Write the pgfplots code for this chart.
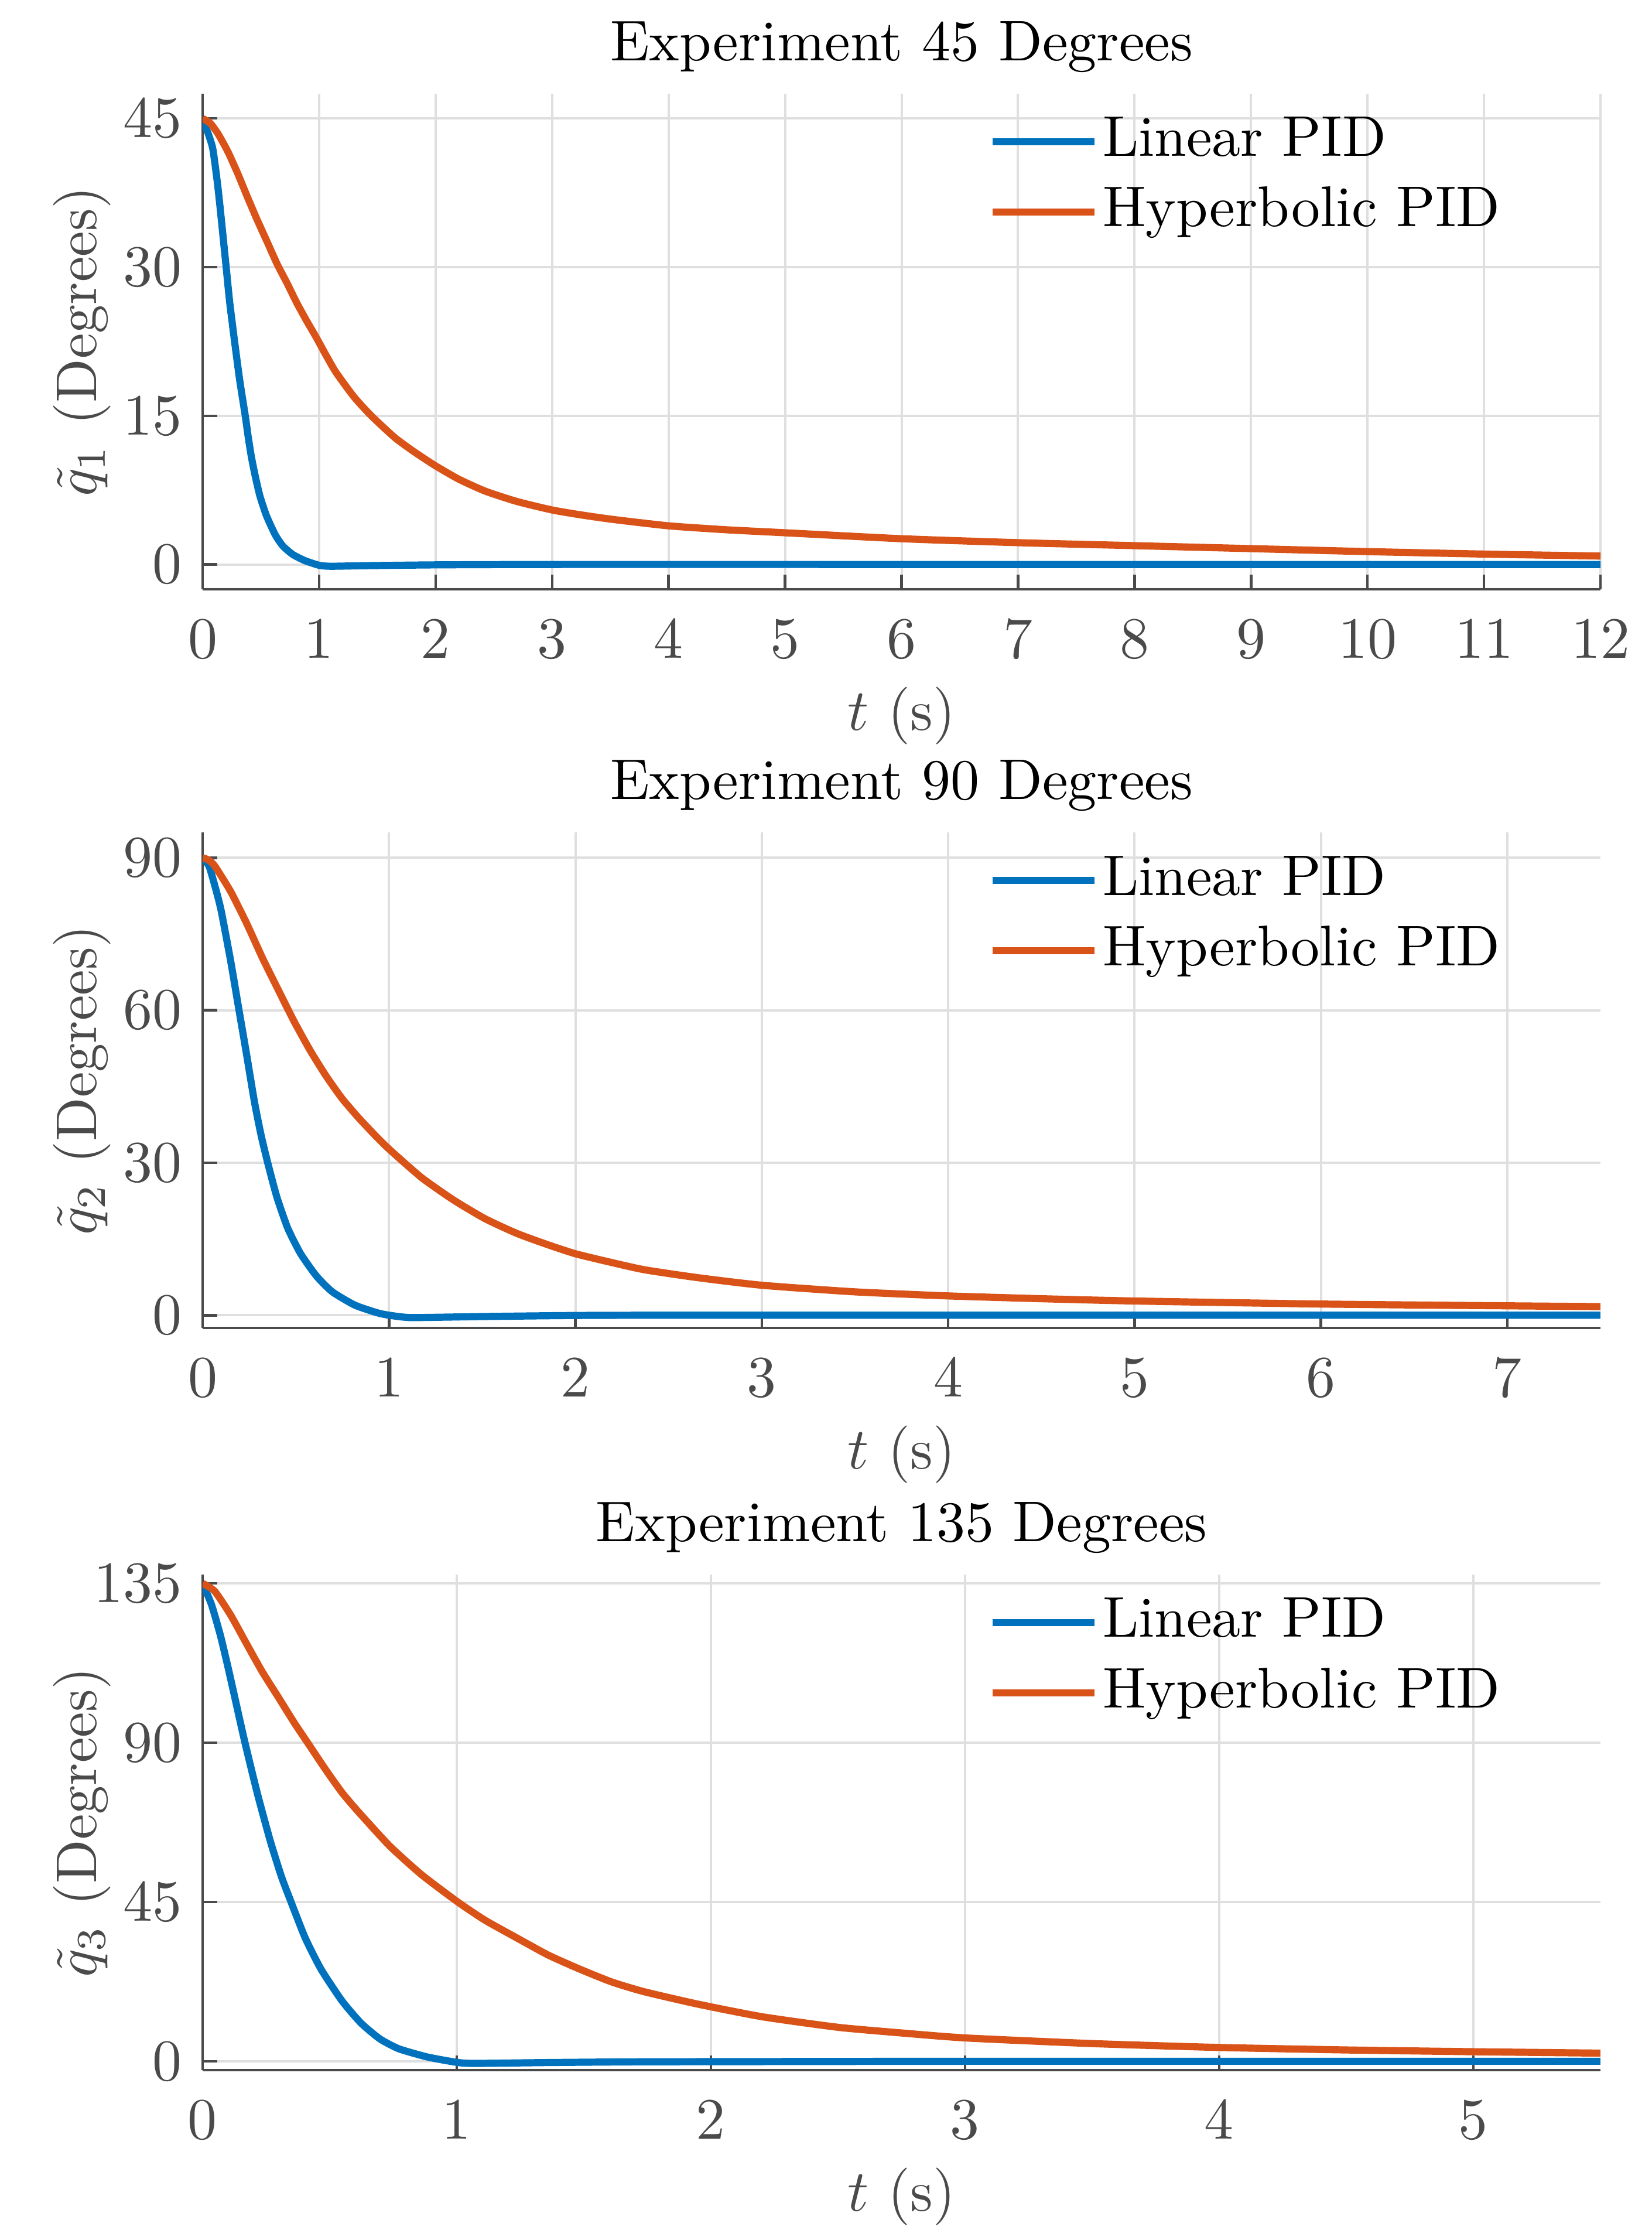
\documentclass[border=0pt]{standalone}
\usepackage{pgfplots}
\pgfplotsset{compat=1.18}
\definecolor{mblue}{rgb}{0,0.447,0.741}
\definecolor{morange}{rgb}{0.85,0.325,0.098}
\definecolor{axgray}{gray}{0.29}
\definecolor{gridgray}{gray}{0.875}
\newcommand{\fs}{\fontsize{10.3}{12}\selectfont}
\newcommand{\ft}{\fontsize{9.8}{12}\selectfont}
\pgfplotsset{
  myax/.style={
    scale only axis, width=238.7pt, height=84.6pt,
    axis x line*=bottom, axis y line*=left,
    axis line style={axgray, line width=0.45pt, -},
    every tick/.style={axgray, line width=0.45pt},
    tick align=inside, major tick length=2.5pt,
    grid=major, major grid style={gridgray, line width=0.4pt},
    tick label style={font=\fs, text=axgray},
    xticklabel style={yshift=-1.8pt},
    xlabel={$t$ (s)},
    every axis title shift=0pt,
    xlabel style={font=\ft, text=axgray, at={(axis description cs:0.5,-0.255)}, anchor=center},
    ylabel style={font=\ft, text=axgray, at={(axis description cs:-0.0863,0.5)}, anchor=center},
    title style={font=\ft, text=black, at={(axis description cs:0.5,1.094)}, anchor=center},
    legend style={draw=none, fill=none, at={(axis description cs:0.5627,0.974)}, anchor=north west,
      inner sep=0pt, outer sep=0pt, row sep=0pt,
      nodes={font=\ft, text=black, inner xsep=0.8pt, inner ysep=1.5pt, text height=7pt, text depth=2pt}},
    legend cell align=left,
    legend image code/.code={\draw[#1] (0pt,0pt) -- (17.4pt,0pt);},
    every axis plot/.append style={line width=1.22pt, smooth, tension=0.35},
  }
}
\begin{document}
\begin{tikzpicture}
\useasboundingbox (0,0) rectangle (282pt,382.4pt);
% ---------- 45 degrees ----------
\begin{axis}[myax, at={(34.6pt,281.8pt)}, anchor=south west,
  xmin=0, xmax=12, ymin=-2.5, ymax=47.5,
  xtick={0,1,...,12}, ytick={0,15,30,45},
  title={Experiment 45 Degrees}, ylabel={$\tilde{q}_1$ (Degrees)}]
\addplot[mblue] coordinates {
(0,45)(0.017,44.4)(0.05,43.4)(0.088,41.9)(0.13,38.2)(0.165,34.3)(0.202,30)(0.232,26.5)
(0.27,22.9)(0.317,18.7)(0.366,15)(0.391,12.9)(0.418,10.9)(0.452,8.9)(0.492,6.9)(0.547,4.95)
(0.623,3.0)(0.69,1.85)(0.775,1.0)(0.876,0.4)(1.0,-0.08)(1.1,-0.18)(1.4,-0.12)(2,-0.04)(3,0)(6,0)(9,0)(12,0)};
\addlegendentry{Linear PID}
\addplot[morange] coordinates {
(0,45)(0.067,44.5)(0.135,43.4)(0.219,41.6)(0.303,39.4)(0.387,37.0)(0.471,34.7)(0.556,32.5)
(0.64,30.3)(0.724,28.4)(0.808,26.4)(0.892,24.6)(0.976,22.9)(1.06,21.1)(1.144,19.4)(1.3,16.9)
(1.448,15)(1.65,12.8)(1.818,11.35)(2.0,9.95)(2.2,8.6)(2.426,7.4)(2.7,6.35)(3.0,5.5)(3.25,5.0)
(3.52,4.55)(4.0,3.9)(4.5,3.5)(5,3.2)(6,2.6)(7,2.2)(8,1.9)(9,1.6)(10,1.3)(11,1.05)(12,0.85)};
\addlegendentry{Hyperbolic PID}
\end{axis}
% ---------- 90 degrees ----------
\begin{axis}[myax, at={(34.6pt,155.7pt)}, anchor=south west,
  xmin=0, xmax=7.5, ymin=-2.5, ymax=95,
  xtick={0,1,...,7}, ytick={0,30,60,90},
  title={Experiment 90 Degrees}, ylabel={$\tilde{q}_2$ (Degrees)}]
\addplot[mblue] coordinates {
(0,90)(0.035,88.3)(0.073,83.5)(0.1,79.5)(0.15,69.8)(0.193,60.5)(0.235,51.5)(0.278,42)
(0.315,35.2)(0.352,29.6)(0.398,23.3)(0.457,17.1)(0.526,12.1)(0.611,7.7)(0.696,4.6)(0.816,2.0)
(0.935,0.5)(1.0,0)(1.106,-0.45)(1.3,-0.38)(1.515,-0.25)(2.0,-0.05)(2.5,0)(5,0)(7.5,0)};
\addlegendentry{Linear PID}
\addplot[morange] coordinates {
(0,90)(0.03,89.6)(0.065,88.4)(0.15,83.4)(0.235,77.2)(0.321,70.3)(0.406,64.0)(0.491,57.8)
(0.577,52.1)(0.662,47.1)(0.747,42.7)(0.833,39.0)(0.92,35.6)(1.0,32.7)(1.174,27.1)(1.345,22.7)
(1.515,19.0)(1.686,16.1)(1.85,13.9)(2.0,12.1)(2.18,10.5)(2.37,8.95)(2.655,7.4)(3.0,5.9)
(3.5,4.6)(4.0,3.8)(4.5,3.25)(5,2.8)(6,2.2)(7,1.85)(7.5,1.7)};
\addlegendentry{Hyperbolic PID}
\end{axis}
% ---------- 135 degrees ----------
\begin{axis}[myax, at={(34.6pt,29.0pt)}, anchor=south west,
  xmin=0, xmax=5.5, ymin=-2.5, ymax=137.5,
  xtick={0,1,...,5}, ytick={0,45,90,135},
  title={Experiment 135 Degrees}, ylabel={$\tilde{q}_3$ (Degrees)}]
\addplot[mblue] coordinates {
(0,135)(0.035,129)(0.07,120.3)(0.1,111.3)(0.13,101.7)(0.166,90.2)(0.216,75.5)(0.266,62.3)
(0.31,52.2)(0.348,45)(0.404,34.8)(0.466,26)(0.548,17.1)(0.623,10.8)(0.698,6.3)(0.773,3.5)
(0.885,1.2)(1.0,-0.3)(1.07,-0.6)(1.36,-0.36)(1.735,-0.15)(2.5,-0.05)(3,0)(4,0)(5.5,0)};
\addlegendentry{Linear PID}
\addplot[morange] coordinates {
(0,135)(0.0475,132.8)(0.11,126.1)(0.1725,118)(0.235,110)(0.2975,102.9)(0.36,95.7)(0.4225,89)
(0.485,82.3)(0.5475,76)(0.61,70.7)(0.735,60.9)(0.86,52.8)(1.0,45.2)(1.11,39.9)(1.235,34.9)
(1.36,30)(1.485,26)(1.61,22.4)(1.735,19.7)(1.945,16.2)(2.2,12.6)(2.5,9.6)(2.75,8.0)(3.0,6.6)
(3.5,5.0)(4.0,3.9)(4.5,3.2)(5,2.7)(5.5,2.3)};
\addlegendentry{Hyperbolic PID}
\end{axis}
\end{tikzpicture}
\end{document}
